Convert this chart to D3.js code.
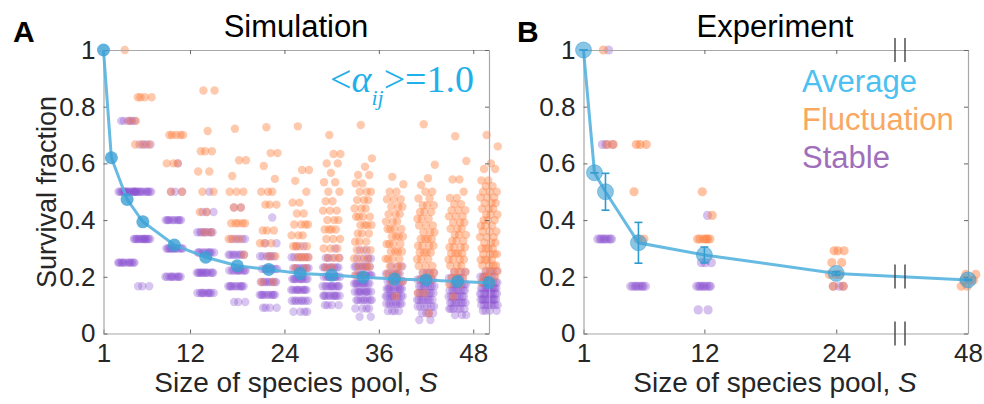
<!DOCTYPE html>
<html><head><meta charset="utf-8">
<script src="https://cdn.jsdelivr.net/npm/d3@7"></script>
<style>body{margin:0;background:#fff} svg{display:block}</style>
</head><body>
<svg id="c" width="984" height="404"></svg>
<script>
// ---------- data ----------
const simSizes   = [1, 2, 4, 6, 10, 14, 18, 22, 26, 30, 34, 38, 42, 46, 50];
const simAverage = [1.0, 0.62, 0.473, 0.394, 0.312, 0.269, 0.239, 0.226, 0.212, 0.206, 0.198, 0.192, 0.189, 0.183, 0.179];
const simDotSizes = [4, 6, 10, 14, 18, 22, 26, 30, 34, 38, 42, 46, 50];
// [survivors, number of communities]
const simFluct = [
  [[4,1],[3,2]],
  [[5,4],[4,3]],
  [[7,5],[6,3],[5,2]],
  [[12,2],[10,1],[9,3],[8,2],[7,2],[6,2],[5,2]],
  [[13,1],[11,2],[10,1],[9,3],[8,2],[7,5],[6,3],[5,1]],
  [[16,1],[14,2],[13,1],[12,1],[11,3],[10,3],[8,3],[7,3],[6,2],[4,2]],
  [[19,1],[15,2],[14,1],[13,1],[12,2],[11,2],[10,4],[9,3],[8,4],[7,4],[6,2]],
  [[21,1],[19,2],[18,2],[17,1],[16,2],[15,2],[14,2],[13,3],[12,3],[11,4],[10,3],[9,3],[8,3],[7,2]],
  [[25,1],[21,1],[20,1],[19,2],[18,2],[17,3],[16,3],[15,3],[14,4],[13,4],[12,3],[11,3],[10,3],[9,3],[8,3],[7,2]],
  [[21,1],[20,1],[19,2],[18,3],[17,3],[16,3],[15,3],[14,4],[13,4],[12,4],[11,4],[10,4],[9,3],[8,3],[7,2],[5,1]],
  [[31,1],[25,1],[23,1],[22,1],[21,2],[20,2],[19,3],[18,3],[17,3],[16,3],[15,3],[14,4],[13,4],[12,4],[11,3],[10,3],[9,3],[8,3],[6,2],[3,1]],
  [[32,1],[28,1],[25,2],[23,1],[22,2],[21,2],[20,3],[19,3],[18,3],[17,3],[16,3],[15,3],[14,4],[13,4],[12,4],[11,3],[10,3],[9,3],[8,2],[6,1]],
  [[35,1],[33,1],[30,1],[29,2],[27,2],[26,2],[25,3],[24,3],[23,3],[22,3],[21,3],[20,3],[19,3],[18,3],[17,3],[16,3],[15,4],[14,4],[13,4],[12,4],[11,3],[10,3],[9,2]]
];
const simStable = [
  [[3,6],[2,14],[1,12]],
  [[4,4],[3,12],[2,14],[1,3]],
  [[6,1],[5,3],[4,10],[3,12],[2,10]],
  [[7,1],[6,3],[5,8],[4,10],[3,12],[2,10]],
  [[8,2],[6,5],[5,8],[4,10],[3,10],[2,3]],
  [[9,1],[7,2],[6,6],[5,8],[4,8],[3,10],[2,4]],
  [[8,2],[7,6],[6,8],[5,10],[4,10],[3,8],[2,4]],
  [[9,1],[8,4],[7,8],[6,10],[5,10],[4,10],[3,4]],
  [[10,2],[9,4],[8,8],[7,10],[6,10],[5,10],[4,8],[3,4],[2,2]],
  [[9,3],[8,6],[7,8],[6,10],[5,10],[4,8],[3,4]],
  [[9,4],[8,8],[7,8],[6,8],[5,8],[4,6],[3,4],[2,2]],
  [[10,3],[9,6],[8,8],[7,8],[6,8],[5,8],[4,6],[3,3]],
  [[11,4],[10,6],[9,8],[8,10],[7,10],[6,10],[5,8],[4,4]]
];

const expSizes   = [1, 2, 3, 6, 12, 24, 48];
const expAverage = [1.0, 0.567, 0.50, 0.32, 0.277, 0.212, 0.189];
const expError   = [0, 0, 0.065, 0.072, 0.028, 0.006, 0.002];
const expDotSizes = [3, 6, 12, 24, 48];
const expFluct = [
  [[3,1],[2,2]],
  [[4,3],[3,1],[2,2]],
  [[6,1],[5,1],[4,6]],
  [[7,3],[6,2],[5,3],[4,2]],
  [[10,2],[9,3],[8,2]]
];
const expStable = [
  [[3,1],[2,3],[1,8]],
  [[1,8]],
  [[5,1],[3,3],[2,8],[1,2]],
  [[4,3]],
  []
];

const xTicksA = [1, 12, 24, 36, 48];
const xTicksB = [1, 12, 24, 48];
const yTicks  = [0, 0.2, 0.4, 0.6, 0.8, 1];
const legendLabels = ["Average", "Fluctuation", "Stable"];

// ---------- styles ----------
const SANS = "'Liberation Sans', Arial, Helvetica, sans-serif";
const SERIF = "'Liberation Serif', 'Times New Roman', serif";
const C_AVG = "#3a9fd4", C_LINE = "#56b2de";
const C_FL = "#ff7f3f", C_ST = "#8a4fcf";
const C_AX = "#a8a8a8", C_TXT = "#262626";

const svg = d3.select("#c");

const y = d3.scaleLinear().domain([0, 1]).range([333.5, 50]);
const xA = d3.scaleLinear().domain([1, 50]).range([103.5, 489]);
const xB = d3.scaleLinear().domain([1, 29.8, 48]).range([583.5, 900, 968]);

function expand(sizes, groups, type) {
  const out = [];
  sizes.forEach((S, gi) => {
    let i = 0;
    groups[gi].forEach(([k, n]) => {
      for (let j = 0; j < n; j++) { out.push({S, v: k / S, type, i: i++ + (type === "st" ? 7 : 0)}); }
    });
  });
  return out;
}
function jit(i, amp) { const f = (i * 0.6180339887 + 0.37) % 1; return (f * 2 - 1) * amp; }

function frame(g, x, xt) {
  const bottom = g.append("g").attr("transform", "translate(0,333.5)")
    .call(d3.axisBottom(x).tickValues(xt).tickSizeInner(-4).tickSizeOuter(0).tickPadding(10).tickFormat(d3.format("d")));
  const top = g.append("g").attr("transform", "translate(0,50)")
    .call(d3.axisTop(x).tickValues(xt).tickSizeInner(-4).tickSizeOuter(0).tickFormat(""));
  const left = g.append("g").attr("transform", `translate(${x.range()[0]},0)`)
    .call(d3.axisLeft(y).tickValues(yTicks).tickSizeInner(-4).tickSizeOuter(0).tickPadding(8).tickFormat(d => String(d)));
  const right = g.append("g").attr("transform", `translate(${x.range()[x.range().length-1]},0)`)
    .call(d3.axisRight(y).tickValues(yTicks).tickSizeInner(-4).tickSizeOuter(0).tickFormat(""));
  [bottom, top, left, right].forEach(a => {
    a.select(".domain").attr("stroke", C_AX).attr("stroke-width", 1.2);
    a.selectAll(".tick line").attr("stroke", "#666").attr("stroke-width", 1);
    a.selectAll(".tick text").attr("font-family", SANS).attr("font-size", 26).attr("fill", C_TXT);
  });
}

// ---------- Panel A ----------
const gA = svg.append("g");
const dotsA = expand(simDotSizes, simStable, "st").concat(expand(simDotSizes, simFluct, "fl"));
gA.append("g").selectAll("circle").data(dotsA).join("circle")
  .attr("cx", d => xA(d.S) + jit(d.i, 9))
  .attr("cy", d => y(d.v))
  .attr("r", 4.2)
  .attr("fill", d => d.type === "fl" ? C_FL : C_ST)
  .attr("fill-opacity", d => d.type === "fl" ? 0.42 : 0.32);
frame(gA, xA, xTicksA);
const simPts = simSizes.map((s, i) => ({S: s, v: simAverage[i]}));
gA.append("path").datum(simPts)
  .attr("d", d3.line().x(d => xA(d.S)).y(d => y(d.v)))
  .attr("fill", "none").attr("stroke", C_LINE).attr("stroke-width", 3).attr("stroke-opacity", 0.9);
gA.append("g").selectAll("circle").data(simPts).join("circle")
  .attr("cx", d => xA(d.S)).attr("cy", d => y(d.v)).attr("r", 6.5)
  .attr("fill", C_AVG).attr("fill-opacity", 0.8);

// ---------- Panel B ----------
const gB = svg.append("g");
const dotsB = expand(expDotSizes, expStable, "st").concat(expand(expDotSizes, expFluct, "fl"));
gB.append("g").selectAll("circle").data(dotsB).join("circle")
  .attr("cx", d => xB(d.S) + jit(d.i, 8))
  .attr("cy", d => y(d.v))
  .attr("r", 4.6)
  .attr("fill", d => d.type === "fl" ? C_FL : C_ST)
  .attr("fill-opacity", d => d.type === "fl" ? 0.48 : 0.36);
frame(gB, xB, xTicksB);
const expPts = expSizes.map((s, i) => ({S: s, v: expAverage[i], e: expError[i]}));
gB.append("path").datum(expPts)
  .attr("d", d3.line().x(d => xB(d.S)).y(d => y(d.v)))
  .attr("fill", "none").attr("stroke", C_LINE).attr("stroke-width", 3).attr("stroke-opacity", 0.9);
const eb = gB.append("g").attr("stroke", "#2f9ad0").attr("stroke-width", 1.6);
expPts.forEach(d => {
  const cx = xB(d.S);
  eb.append("line").attr("x1", cx).attr("x2", cx).attr("y1", y(d.v - d.e)).attr("y2", y(d.v + d.e));
  eb.append("line").attr("x1", cx - 4).attr("x2", cx + 4).attr("y1", y(d.v - d.e)).attr("y2", y(d.v - d.e));
  eb.append("line").attr("x1", cx - 4).attr("x2", cx + 4).attr("y1", y(d.v + d.e)).attr("y2", y(d.v + d.e));
});
gB.append("g").selectAll("circle").data(expPts).join("circle")
  .attr("cx", d => xB(d.S)).attr("cy", d => y(d.v)).attr("r", 8)
  .attr("fill", C_AVG).attr("fill-opacity", 0.6)
  .attr("stroke", C_AVG).attr("stroke-opacity", 0.5).attr("stroke-width", 1);

// axis break marks
const breakX = xB(29.8);
const lineYAtBreak = y(expAverage[5] + (expAverage[6] - expAverage[5]) * (breakX - xB(24)) / (xB(48) - xB(24)));
[y(1), y(0), lineYAtBreak].forEach(cy => {
  [-5, 5].forEach(dx => {
    gB.append("line").attr("x1", breakX + dx).attr("x2", breakX + dx)
      .attr("y1", cy - 12).attr("y2", cy + 12)
      .attr("stroke", "#333").attr("stroke-width", 1.3);
  });
});

// ---------- text ----------
function txt(x, yy, s, size, opts = {}) {
  return svg.append("text").attr("x", x).attr("y", yy).text(s)
    .attr("font-family", opts.family || SANS).attr("font-size", size)
    .attr("font-weight", opts.weight || "normal")
    .attr("fill", opts.fill || "#000").attr("text-anchor", opts.anchor || "start");
}
txt(13, 42, "A", 30, {weight: "bold"});
txt(517, 42, "B", 30, {weight: "bold"});
txt(296, 37, "Simulation", 31, {anchor: "middle"});
txt(775, 37, "Experiment", 31, {anchor: "middle"});

[296, 775].forEach(cx => {
  const t = svg.append("text").attr("x", cx).attr("y", 392).attr("text-anchor", "middle")
    .attr("font-family", SANS).attr("font-size", 28).attr("fill", C_TXT);
  t.append("tspan").text("Size of species pool, ");
  t.append("tspan").attr("font-style", "italic").text("S");
});
svg.append("text").attr("transform", "translate(56,192) rotate(-90)")
  .attr("text-anchor", "middle").attr("font-family", SANS).attr("font-size", 27)
  .attr("fill", C_TXT).text("Survival fraction");

// annotation
const ann = svg.append("text").attr("x", 330).attr("y", 92)
  .attr("font-family", SERIF).attr("font-size", 38).attr("fill", "#1eb0ea");
ann.append("tspan").text("<");
ann.append("tspan").attr("font-style", "italic").text("α");
ann.append("tspan").attr("font-style", "italic").attr("font-size", 22).attr("dy", 13).text("ij");
ann.append("tspan").attr("dy", -13).text(">=1.0");

// legend
const legColors = ["#4cc0f0", "#f9a862", "#9f6fbb"];
legendLabels.forEach((l, i) => txt(802, 92 + i * 37.8, l, 31, {fill: legColors[i]}));
</script>
</body></html>
